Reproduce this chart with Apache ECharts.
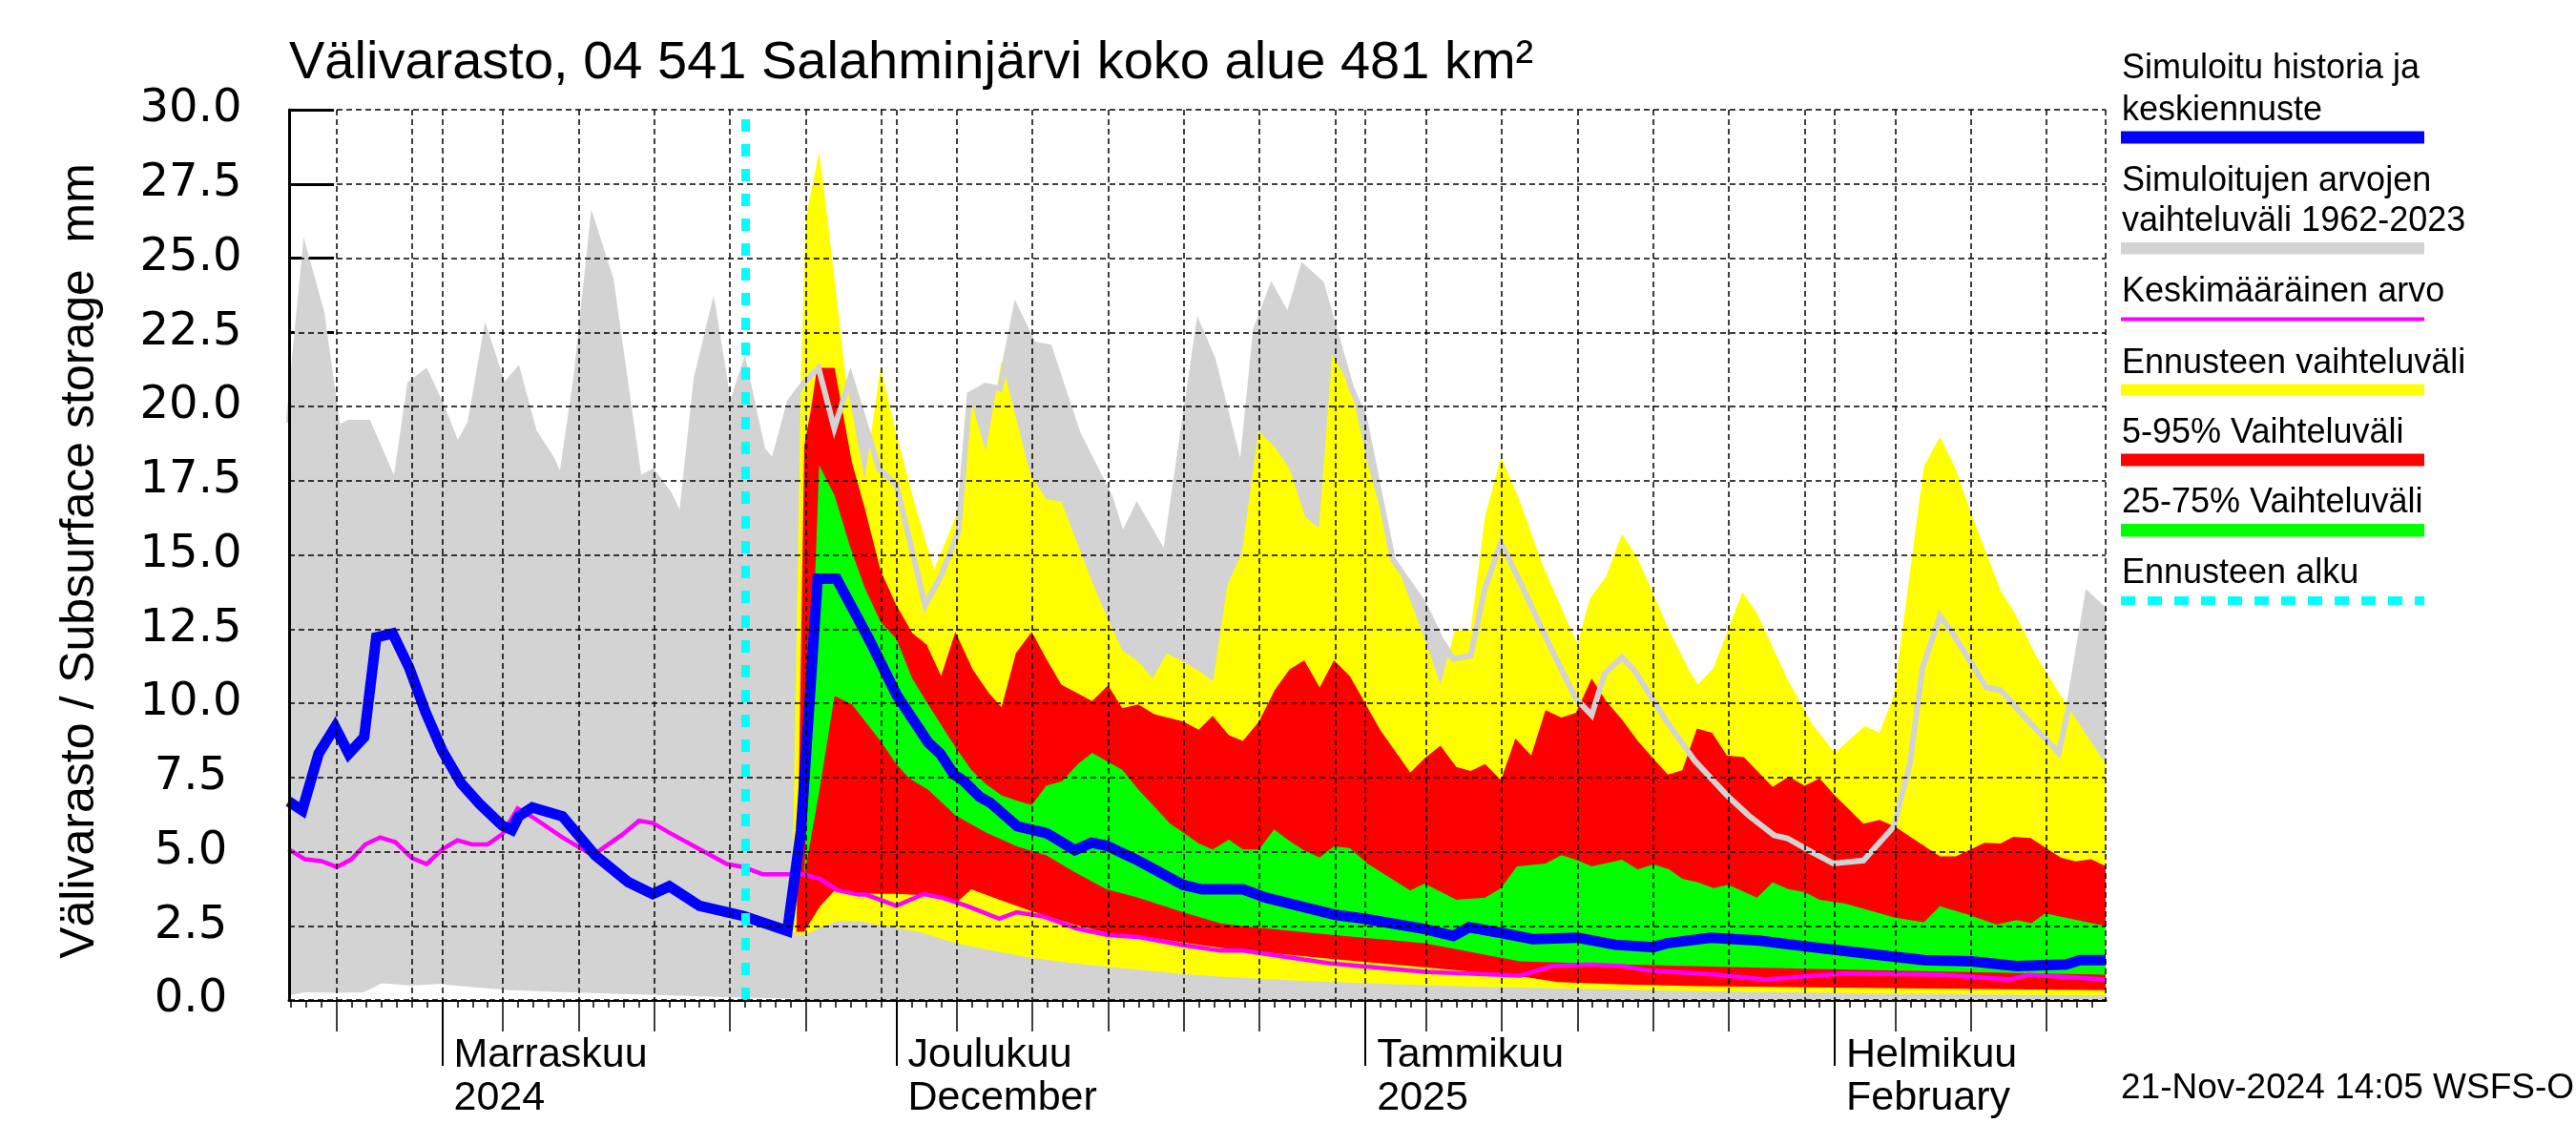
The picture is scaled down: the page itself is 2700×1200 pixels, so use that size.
<!DOCTYPE html>
<html>
<head>
<meta charset="utf-8">
<script src="https://cdn.jsdelivr.net/npm/echarts@6/dist/echarts.min.js"></script>
<style>
html,body{margin:0;padding:0;background:#ffffff;}
#chart{width:2700px;height:1200px;}
</style>
</head>
<body>
<div id="chart"></div>
<script>
// ---------------- DATA (x = day number, 0 = 1 Nov 2024 00:00) ----------------
const X_MIN = -10.12;
const X_MAX = 109.9;
const forecastStartDay = 20; // 21 Nov 2024

const monthStartDays = [0, 30, 61, 92];
const monthLabels = ['Marraskuu\n2024', 'Joulukuu\nDecember', 'Tammikuu\n2025', 'Helmikuu\nFebruary'];
const fiveDayTickDays = [-7, 4, 9, 14, 19, 24, 34, 39, 44, 49, 54, 65, 70, 75, 80, 85, 96, 101, 106];
const gridLineDays = [-7, -2, 0, 4, 9, 14, 19, 24, 29, 30, 34, 39, 44, 49, 54, 59, 61, 65, 70, 75, 80, 85, 90, 92, 96, 101, 106, 109.9];
const yTickValues = [0, 2.5, 5, 7.5, 10, 12.5, 15, 17.5, 20, 22.5, 25, 27.5, 30];

const titleText = 'Välivarasto, 04 541 Salahminjärvi koko alue 481 km²';
const yAxisTitle = 'Välivarasto / Subsurface storage  mm';
const stampText = '21-Nov-2024 14:05 WSFS-O';
const legendTexts = [
  ['Simuloitu historia ja', 'keskiennuste'],
  ['Simuloitujen arvojen', 'vaihteluväli 1962-2023'],
  ['Keskimääräinen arvo'],
  ['Ennusteen vaihteluväli'],
  ['5-95% Vaihteluväli'],
  ['25-75% Vaihteluväli'],
  ['Ennusteen alku']
];

// Simulated range 1962-2023 (upper / lower)
const histMax = [[-10.15,19.45],[-9.07,25.18],[-7.98,23.17],[-6.9,19.25],[-6.18,19.45],[-4.9,19.45],[-3.1,17.34],[-2.12,20.76],[-1.1,21.16],[0,19.95],[1.0,18.65],[1.86,19.45],[2.88,22.46],[4.04,20.65],[4.98,21.2],[6.06,19.15],[7.22,18.24],[7.87,17.5],[8.85,20.95],[9.94,26.18],[11.13,24.28],[13.0,17.54],[13.9,17.8],[15.0,17.04],[15.8,16.17],[16.8,20.95],[17.9,23.27],[18.99,19.85],[19.96,21.36],[21.15,18.55],[21.88,18.1],[22.96,20.16],[23.9,20.8],[24.86,21.3],[25.9,19.26],[26.97,21.0],[28.86,17.9],[30.0,17.35],[31.9,13.3],[32.96,14.3],[34.1,15.8],[34.85,20.4],[35.9,20.7],[36.85,20.6],[37.9,23.3],[39.05,22.1],[40.1,22.0],[42.0,19.07],[44.1,16.96],[44.94,15.6],[45.9,16.6],[47.77,14.95],[48.93,19.07],[49.97,22.7],[50.9,21.6],[52.8,17.7],[53.76,22.6],[54.8,24.0],[55.9,23.0],[56.87,24.7],[58.07,24.15],[59.0,22.5],[60.07,20.6],[60.9,19.65],[62.8,14.85],[64.9,13.3],[65.95,12.17],[66.79,11.5],[67.95,11.6],[68.9,13.9],[69.95,15.4],[71.2,14.1],[73.3,11.8],[74.9,10.15],[75.94,9.6],[76.8,11.0],[77.94,11.55],[78.77,11.1],[80.88,9.4],[82.77,8.05],[84.87,6.9],[86.3,6.22],[88.0,5.55],[88.86,5.45],[90.5,4.98],[91.9,4.6],[93.9,4.7],[95.9,5.84],[96.96,7.95],[97.8,11.2],[98.95,12.94],[99.8,12.36],[102.0,10.54],[102.95,10.44],[104.8,9.4],[106.8,8.33],[107.5,9.96],[108.72,13.66],[109.9,13.1]];
const histMin = [[-10.15,0.15],[-9.05,0.26],[-7.1,0.24],[-5.2,0.26],[-4.0,0.56],[-2.1,0.49],[-0.15,0.54],[1.77,0.44],[4.5,0.33],[8.3,0.26],[14.1,0.17],[19.1,0.09],[23.0,0.05],[27.6,0.03],[34,0.0]];

// Mean value
const meanValue = [[-10.15,5.08],[-9.07,4.74],[-7.98,4.68],[-6.97,4.48],[-6.0,4.74],[-5.09,5.24],[-4.11,5.48],[-3.1,5.32],[-2.0,4.78],[-1.03,4.58],[0,5.08],[1.0,5.38],[1.97,5.24],[2.98,5.24],[3.96,5.58],[4.98,6.45],[6.06,6.13],[7.94,5.48],[9.94,4.88],[11.92,5.58],[13.0,6.04],[13.9,5.96],[15.0,5.64],[17.0,5.08],[18.8,4.58],[19.9,4.48],[21.15,4.24],[23.87,4.24],[24.96,4.08],[26.1,3.7],[27.5,3.55],[28.0,3.55],[30.0,3.17],[31.8,3.57],[33.0,3.45],[34.7,3.16],[36.8,2.74],[37.95,2.96],[39.75,2.81],[41.9,2.41],[44.0,2.19],[46.0,2.12],[48.93,1.85],[51.45,1.66],[52.9,1.66],[58.6,1.24],[64.9,0.95],[71.2,0.82],[73.3,1.14],[75.83,1.2],[78.0,1.14],[79.6,1.0],[84.24,0.85],[87.4,0.69],[92.6,0.89],[98.95,0.85],[103.6,0.69],[104.8,0.85],[109.9,0.69]];

// Simulated history + median forecast
const simMedian = [[-10.15,6.69],[-9.25,6.39],[-8.17,8.3],[-7.08,9.2],[-6.18,8.3],[-5.16,8.86],[-4.36,12.22],[-3.28,12.35],[-2.19,11.2],[-1.1,9.7],[0,8.4],[1.25,7.3],[2.5,6.59],[3.96,5.88],[4.6,5.73],[5.05,6.19],[5.95,6.49],[7.94,6.19],[10.1,4.88],[12.29,3.97],[13.9,3.57],[15.0,3.83],[17.0,3.17],[19.9,2.83],[22.8,2.33],[23.7,5.7],[24.8,14.2],[26.05,14.2],[28.2,12.15],[30.0,10.3],[32.1,8.68],[32.9,8.3],[33.8,7.6],[34.4,7.4],[35.5,6.85],[36.2,6.65],[38.0,5.85],[39.7,5.65],[40.0,5.6],[41.8,5.05],[42.9,5.3],[43.9,5.2],[46.0,4.69],[48.93,3.88],[50.2,3.73],[52.9,3.73],[54.4,3.45],[59.0,2.87],[60.9,2.74],[64.9,2.39],[66.8,2.16],[67.85,2.45],[69.95,2.26],[72.05,2.05],[75.0,2.1],[77.5,1.86],[80.0,1.78],[80.9,1.91],[83.8,2.1],[87.0,2.0],[90.5,1.78],[94.75,1.53],[97.9,1.34],[101.05,1.3],[104.0,1.14],[107.3,1.2],[108.2,1.34],[109.9,1.34]];

// Forecast range (upper / lower)
const fcMax = [[23.08,2.3],[23.7,21.0],[24.02,26.36],[24.9,28.56],[25.4,26.55],[25.92,24.25],[26.65,21.0],[27.91,17.54],[28.96,21.33],[30.0,19.07],[31.28,16.58],[32.5,14.5],[34.1,16.5],[34.85,20.2],[35.05,20.0],[35.9,18.5],[36.95,21.56],[38.84,17.73],[39.9,16.87],[40.9,16.8],[42.8,14.28],[43.9,12.93],[44.93,11.78],[45.99,11.41],[46.93,10.84],[47.87,11.68],[48.93,11.41],[50.19,11.03],[50.93,10.74],[51.87,13.99],[52.82,15.05],[53.93,19.17],[54.92,18.69],[55.97,17.92],[57.02,16.29],[57.92,15.9],[58.8,21.75],[60.07,20.6],[61.12,18.1],[62.8,15.05],[64.9,12.17],[65.95,10.63],[66.9,12.46],[67.95,12.46],[68.9,16.29],[69.95,18.3],[71.2,16.8],[72.7,14.66],[75.0,11.98],[75.8,13.5],[76.9,14.28],[77.94,15.7],[78.9,14.95],[79.83,13.9],[80.98,12.55],[82.35,11.13],[82.97,10.63],[84.0,11.2],[85.9,13.74],[86.86,13.03],[88.86,10.83],[90.5,9.3],[92.0,8.33],[93.06,8.81],[94.0,9.23],[94.96,9.0],[95.9,10.26],[97.9,18.0],[98.95,18.97],[99.9,18.0],[100.96,16.48],[102.95,13.8],[103.9,13.03],[105.3,11.6],[107.3,9.96],[109.9,7.95]];
const fcMin = [[23.08,2.3],[23.5,2.2],[24.0,2.2],[25.0,2.45],[26.1,2.65],[27.6,2.65],[29.0,2.52],[31.5,2.3],[33.9,1.91],[36.5,1.65],[38.9,1.42],[41.5,1.25],[43.9,1.12],[46.5,1.0],[48.93,0.88],[51.45,0.78],[58,0.62],[66.6,0.47],[75,0.38],[83,0.3],[95,0.22],[109.9,0.15]];

// 5-95 % range (upper / lower)
const p95 = [[23.4,2.3],[23.92,18.69],[24.34,19.84],[24.76,21.3],[25.92,21.3],[27.07,18.11],[27.91,16.58],[28.96,14.47],[30.0,13.3],[31.06,12.36],[32.0,11.98],[32.96,10.92],[33.9,12.4],[35.05,11.13],[36.1,10.35],[36.95,9.86],[37.9,11.69],[38.95,12.4],[39.9,11.5],[40.9,10.63],[42.94,10.07],[43.99,10.6],[44.93,9.83],[45.99,9.96],[47.04,9.63],[48.93,9.39],[49.98,9.11],[50.9,9.57],[51.97,8.92],[52.9,8.73],[53.97,9.39],[55.0,10.44],[55.97,11.13],[56.95,11.45],[57.97,10.53],[58.91,11.45],[59.96,10.92],[61.96,9.11],[63.96,7.66],[64.9,8.14],[65.95,8.57],[67.0,7.85],[67.95,7.72],[68.9,7.95],[69.95,7.41],[70.9,8.81],[71.95,8.24],[72.89,9.77],[73.94,9.52],[74.9,9.68],[75.94,10.83],[76.9,10.07],[77.94,9.45],[78.99,8.73],[80.0,8.14],[80.98,7.6],[81.93,7.74],[82.9,9.15],[83.9,9.0],[84.87,8.24],[86.0,8.18],[87.9,7.18],[88.97,7.53],[90.0,7.22],[91.0,7.47],[92.0,6.9],[93.9,5.94],[94.96,6.07],[96.0,5.84],[98.95,4.84],[100.0,4.84],[101.9,5.3],[102.95,5.27],[103.8,5.5],[104.94,5.46],[106.94,4.8],[107.9,4.67],[108.93,4.74],[109.9,4.51]];
const p05 = [[23.4,2.3],[23.92,2.3],[24.96,3.16],[25.92,3.69],[27.07,3.6],[28.96,3.58],[30.0,3.58],[32.1,3.52],[33.9,3.25],[34.95,3.73],[36.95,3.35],[38.9,3.0],[41.78,2.53],[43.9,2.26],[46.9,2.1],[48.93,1.94],[51.45,1.75],[58.6,1.39],[64.9,1.1],[71.2,0.8],[73.7,0.6],[78,0.52],[83,0.47],[95,0.4],[109.9,0.33]];

// 25-75 % range (upper / lower)
const p75 = [[23.92,4.2],[24.9,18.02],[25.92,17.0],[26.97,15.23],[27.91,13.9],[28.96,12.74],[30.0,12.17],[31.06,10.83],[32.1,9.96],[33.9,8.52],[34.95,7.76],[35.9,7.28],[36.95,6.9],[38.0,6.71],[38.95,6.57],[39.9,7.22],[40.95,7.37],[42.0,7.95],[42.94,8.33],[43.9,8.05],[44.93,7.76],[45.99,7.09],[47.04,6.52],[48.09,5.94],[48.93,5.65],[49.98,5.27],[50.9,5.07],[51.97,5.4],[52.9,5.07],[53.97,5.07],[54.96,5.75],[55.97,5.36],[56.94,5.04],[57.97,4.8],[58.91,5.18],[59.96,5.12],[61.12,4.6],[63.96,3.69],[64.9,3.92],[67.0,3.38],[68.9,3.45],[69.95,3.77],[71.0,4.5],[72.89,4.6],[73.94,4.88],[74.9,4.73],[75.94,4.5],[77.94,4.73],[78.99,4.4],[80.03,4.57],[81.08,4.4],[81.93,4.08],[82.97,3.96],[84.0,3.77],[84.97,3.88],[86.86,3.45],[87.9,3.96],[88.97,3.73],[90.0,3.64],[91.0,3.38],[92.7,3.25],[96.0,2.77],[97.9,2.62],[98.95,3.16],[100.85,2.87],[102.7,2.54],[104.0,2.69],[105.0,2.59],[105.9,2.92],[109.9,2.49]];
const p25 = [[23.92,4.2],[24.9,7.0],[25.92,10.25],[27.07,9.96],[28.96,8.72],[30.0,7.95],[30.85,7.47],[32.1,7.09],[33.9,6.22],[35.9,5.65],[38.0,5.17],[39.9,4.88],[41.78,4.31],[43.9,3.73],[45.99,3.45],[48.93,2.96],[51.45,2.58],[52.8,2.49],[58.6,2.2],[64.9,1.91],[71.2,1.3],[78,1.2],[90,1.05],[100,0.95],[109.9,0.85]];

// ---------------- STYLE / LAYOUT ----------------
const C = {grey:'#d3d3d3', yellow:'#ffff00', red:'#ff0000', green:'#00ff00', blue:'#0000ff', magenta:'#ff00ff', cyan:'#00ffff', white:'#ffffff', black:'#000000'};
const FONT = 'Liberation Sans';
const GRID = {left:303, top:115, width:1904, height:933};

const dailyTickDays = [];
for (let d = -10; d <= 109; d++) dailyTickDays.push(d);

function areaLayer(name, data, color, z){
  return {type:'line', name, data, symbol:'none', showSymbol:false, silent:true, z,
    lineStyle:{width:0, opacity:0}, areaStyle:{color, opacity:1}, animation:false};
}
function lineLayer(name, data, color, width, z, extra){
  return Object.assign({type:'line', name, data, symbol:'none', showSymbol:false, silent:true, z,
    lineStyle:{color, width, cap:'butt', join:'miter'}, animation:false}, extra || {});
}

const baseX = {type:'value', gridIndex:0, min:X_MIN, max:X_MAX, position:'bottom', splitLine:{show:false}};
const xAxes = [
  Object.assign({}, baseX, {z:0,
    axisLine:{show:true, onZero:false, lineStyle:{color:C.black, width:3}},
    axisTick:{show:true, inside:false, length:8, customValues:dailyTickDays, lineStyle:{color:C.black, width:1.5}},
    axisLabel:{show:false}}),
  Object.assign({}, baseX, {z:0,
    axisLine:{show:false, onZero:false},
    axisTick:{show:true, inside:false, length:33, customValues:fiveDayTickDays, lineStyle:{color:C.black, width:1.5}},
    axisLabel:{show:false}}),
  Object.assign({}, baseX, {z:0,
    axisLine:{show:false, onZero:false},
    axisTick:{show:true, inside:false, length:69, customValues:monthStartDays, lineStyle:{color:C.black, width:2}},
    axisLabel:{show:true, customValues:monthStartDays, margin:36, align:'left', verticalAlign:'top',
      padding:[0,0,0,12], fontFamily:FONT, fontSize:43, lineHeight:45, color:C.black,
      formatter:function(v){ const i = monthStartDays.indexOf(Math.round(v)); return i >= 0 ? monthLabels[i] : ''; }}}),
  Object.assign({}, baseX, {z:50,
    axisLine:{show:false, onZero:false},
    axisTick:{show:false, customValues:gridLineDays},
    axisLabel:{show:false},
    splitLine:{show:true, lineStyle:{color:C.black, width:1.5, type:[6,4]}}})
];

const baseY = {type:'value', gridIndex:0, min:0, max:30, interval:2.5, position:'left'};
const yAxes = [
  Object.assign({}, baseY, {z:0,
    axisLine:{show:false, onZero:false},
    axisTick:{show:true, inside:true, length:47, lineStyle:{color:C.black, width:3}},
    splitLine:{show:false},
    axisLabel:{show:true, margin:103, align:'center', fontFamily:'DejaVu Sans', fontSize:48, color:C.black,
      padding:[0,0,8,0], formatter:function(v){ return v.toFixed(1); }}}),
  Object.assign({}, baseY, {z:50,
    axisLine:{show:true, onZero:false, lineStyle:{color:C.black, width:3}},
    axisTick:{show:false}, axisLabel:{show:false},
    splitLine:{show:true, lineStyle:{color:C.black, width:1.5, type:[6,4]}}})
];

const series = [
  areaLayer('Simuloitujen arvojen vaihteluväli 1962-2023', histMax, C.grey, 2),
  areaLayer('Simuloitujen arvojen vaihteluväli (min)', histMin, C.white, 3),
  areaLayer('Ennusteen vaihteluväli', fcMax, C.yellow, 4),
  areaLayer('5-95% Vaihteluväli', p95, C.red, 5),
  areaLayer('25-75% Vaihteluväli', p75, C.green, 6),
  areaLayer('25% raja', p25, C.red, 7),
  areaLayer('5% raja', p05, C.yellow, 8),
  areaLayer('Ennusteen vaihteluväli (min)', fcMin, C.grey, 9),
  lineLayer('Simuloitujen arvojen yläraja', histMax, C.grey, 6, 10),
  lineLayer('Keskimääräinen arvo', meanValue, C.magenta, 4.5, 11),
  lineLayer('Simuloitu historia ja keskiennuste', simMedian, C.blue, 11, 12, {
    markLine:{silent:true, z:13, symbol:['none','none'], label:{show:false},
      lineStyle:{color:C.cyan, width:9, type:[13,13]}, data:[{xAxis:forecastStartDay}]}
  })
];

// legend & text graphics
const LEG_X = 2224, BAR_X = 2223, BAR_W = 318;
const legendBaselines = [[83,127],[201,243.5],[317.5],[392],[465],[538],[612.5]];
const legendBars = [
  {y:137.5, h:13, color:C.blue},
  {y:254, h:12.5, color:C.grey},
  {y:332.5, h:4, color:C.magenta},
  {y:402.5, h:12, color:C.yellow},
  {y:475.6, h:13, color:C.red},
  {y:549, h:13.5, color:C.green},
  {y:629.5, h:9, color:C.cyan, dashed:true}
];
const graphics = [];
graphics.push({type:'text', x:303, y:67, style:{text:titleText, fontFamily:FONT, fontSize:56, fill:C.black, align:'left', verticalAlign:'middle'}});
graphics.push({type:'text', x:84, y:588, rotation:Math.PI/2, style:{text:yAxisTitle, fontFamily:FONT, fontSize:50, fill:C.black, align:'center', verticalAlign:'middle'}});
graphics.push({type:'text', x:2223, y:1141, style:{text:stampText, fontFamily:FONT, fontSize:37, fill:C.black, align:'left', verticalAlign:'middle'}});
legendTexts.forEach(function(lines, i){
  lines.forEach(function(t, j){
    graphics.push({type:'text', x:LEG_X, y:legendBaselines[i][j] - 11.2,
      style:{text:t, fontFamily:FONT, fontSize:36, fill:C.black, align:'left', verticalAlign:'middle'}});
  });
  const b = legendBars[i];
  if (b.dashed) {
    graphics.push({type:'line', shape:{x1:BAR_X, y1:b.y, x2:BAR_X+BAR_W, y2:b.y},
      style:{stroke:b.color, lineWidth:b.h, lineDash:[15,13]}});
  } else {
    graphics.push({type:'rect', shape:{x:BAR_X, y:b.y, width:BAR_W, height:b.h}, style:{fill:b.color}});
  }
});

const chart = echarts.init(document.getElementById('chart'), null, {renderer:'canvas'});
chart.setOption({
  backgroundColor:'#ffffff',
  animation:false,
  grid:{left:GRID.left, top:GRID.top, width:GRID.width, height:GRID.height, containLabel:false, outerBoundsMode:'none'},
  xAxis:xAxes,
  yAxis:yAxes,
  series:series,
  graphic:graphics
});
</script>
</body>
</html>
